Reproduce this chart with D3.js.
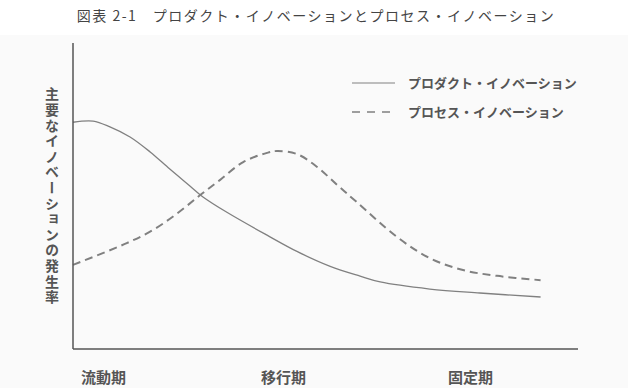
<!DOCTYPE html>
<html>
<head>
    <meta charset="utf-8">
    <script src="https://cdn.jsdelivr.net/npm/d3@7/dist/d3.min.js"></script>
</head>

<style>
    body { margin: 0; background: #fff; }
    text { font-family: "Noto Sans CJK JP", sans-serif; fill: #555; }
    .line { fill: none; stroke: #808080; }
</style>

<body>
<div id="chart"></div>

<script>

    var title = '図表 2-1　プロダクト・イノベーションとプロセス・イノベーション';
    var yLabel = '主要なイノベーションの発生率';
    var stages = ['流動期', '移行期', '固定期'];
    var stagePos = [6.5, 45, 85];   // along the time axis

    // time (0-100) and rate (0-100)
    var productT = [0, 4.3, 7.9, 12.2, 16.5, 20.7, 25, 27.8, 33, 41.5, 48, 55, 61.4, 65.7, 76.3, 87, 100];
    var productV = [74.1, 74.5, 72.6, 69.3, 64.4, 58.8, 53.3, 49.7, 44.6, 37.2, 31.8, 27, 23.8, 21.9, 19.6, 18.3, 17];

    var processT = [0, 11.5, 17, 22.2, 27.2, 31.4, 36.4, 41.5, 43.6, 47.9, 52.2, 56.5, 60.7, 69.3, 76.3, 83.4, 90.7, 100];
    var processV = [27.5, 34.6, 38.8, 44.2, 50.3, 55.2, 61.1, 64.1, 64.7, 63.7, 59.5, 53.6, 48, 36.6, 29.7, 25.8, 23.9, 22.5];

    var seriesNames = ['プロダクト・イノベーション', 'プロセス・イノベーション'];

    var width = 636;
    var height = 388;

    var xScale = d3.scaleLinear()
        .domain([0, 108])
        .range([73, 578]);

    var yScale = d3.scaleLinear()
        .domain([0, 100])
        .range([349, 43]);

    var svg = d3.select('#chart').append('svg')
        .attr('width', width)
        .attr('height', height);

    // faint paper tone of the pasted figure
    svg.append('rect')
        .attr('x', 0).attr('y', 35)
        .attr('width', 628).attr('height', height - 35)
        .attr('fill', '#fafafa');

    svg.append('text')
        .attr('x', 316)
        .attr('y', 21)
        .attr('text-anchor', 'middle')
        .style('font-size', '14px')
        .style('letter-spacing', '1.5px')
        .style('fill', '#444')
        .text(title);

    var pen = d3.line()
        .curve(d3.curveCatmullRom.alpha(0.5))
        .x(function(d) { return xScale(d[0]); })
        .y(function(d) { return yScale(d[1]); });

    var product = d3.zip(productT, productV);
    var process = d3.zip(processT, processV);

    svg.append('path')
        .datum(product)
        .attr('class', 'line')
        .attr('stroke-width', 1.3)
        .attr('d', pen);

    svg.append('path')
        .datum(process)
        .attr('class', 'line')
        .attr('stroke-width', 2)
        .attr('stroke-dasharray', '8,5')
        .attr('d', pen);

    // axes: plain lines, no ticks
    svg.append('line')
        .attr('stroke', '#555').attr('stroke-width', 1.5)
        .attr('x1', xScale(0)).attr('x2', xScale(0))
        .attr('y1', yScale(100)).attr('y2', yScale(0));

    svg.append('line')
        .attr('stroke', '#555').attr('stroke-width', 1.5)
        .attr('x1', xScale(0)).attr('x2', xScale(108))
        .attr('y1', yScale(0)).attr('y2', yScale(0));

    svg.selectAll('text.stage')
        .data(stages)
        .enter()
        .append('text')
        .attr('class', 'stage')
        .attr('x', function(d, i) { return xScale(stagePos[i]); })
        .attr('y', 383)
        .attr('text-anchor', 'middle')
        .style('font-size', '15px')
        .style('font-weight', 'bold')
        .text(function(d) { return d; });

    // vertical y label
    svg.append('text')
        .attr('x', 52)
        .attr('y', 87)
        .style('writing-mode', 'vertical-rl')
        .style('text-orientation', 'upright')
        .style('font-size', '14px')
        .style('font-weight', 'bold')
        .style('letter-spacing', '1.6px')
        .text(yLabel);

    // legend
    var legend = svg.selectAll('g.legend')
        .data(seriesNames)
        .enter()
        .append('g')
        .attr('class', 'legend')
        .attr('transform', function(d, i) { return 'translate(352,' + (83 + i * 29) + ')'; });

    legend.append('line')
        .attr('x1', 0).attr('x2', 43)
        .attr('stroke', '#808080')
        .attr('stroke-width', function(d, i) { return i ? 1.6 : 1.2; })
        .attr('stroke-dasharray', function(d, i) { return i ? '8,7' : null; });

    legend.append('text')
        .attr('x', 56)
        .attr('dy', '0.35em')
        .style('font-size', '13px')
        .style('font-weight', 'bold')
        .text(function(d) { return d; });

</script>
</body>
</html>
